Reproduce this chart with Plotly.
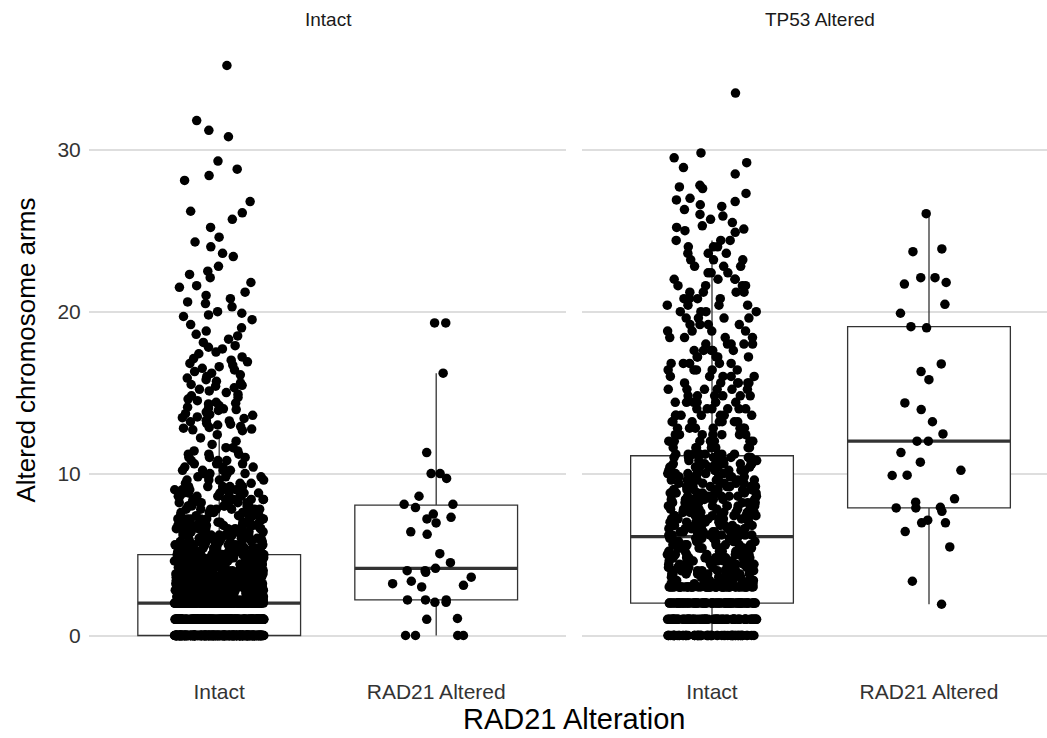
import numpy as np
import plotly.graph_objects as go

# ---------------- data ----------------
panels = ["Intact", "TP53 Altered"]
groups = ["Intact", "RAD21 Altered"]

# Panel "Intact", group "Intact": frequency table of the dense part ...
p1_intact_vals = [0, 1, 2,
                  2.2, 2.4, 2.6, 2.8, 3.0, 3.2, 3.4, 3.6, 3.8, 4.0, 4.2, 4.4, 4.6, 4.8, 5.0,
                  5.2, 5.4, 5.6, 5.8, 6.0, 6.2, 6.4, 6.6, 6.8, 7.0, 7.2, 7.4, 7.6, 7.8, 8.0,
                  8.2, 8.4, 8.6, 8.8, 9.0, 9.2, 9.4, 9.6, 9.8, 10.0, 10.2, 10.4, 10.6, 10.8,
                  11.0, 11.2, 11.4, 11.6, 11.8, 12.0, 12.2, 12.4]
p1_intact_counts = [400, 190, 170,
                    24, 24, 23, 23, 22, 22, 22, 21, 21, 21, 20, 20, 19, 18, 25,
                    13, 13, 12, 12, 11, 10, 10, 10, 10, 9, 9, 8, 8, 7, 7,
                    7, 7, 6, 6, 5, 5, 4, 4, 4, 4, 4, 3, 3, 3,
                    3, 3, 2, 2, 1, 1, 1, 1]
# ... and the individual upper values
p1_intact_high = [35.2, 31.8, 31.2, 30.8, 29.3, 28.8, 28.4, 28.1, 26.8, 26.2, 26.1, 25.7,
                  25.2, 24.6, 24.3, 24.0, 23.6, 23.4, 22.8, 22.5, 22.3, 22.1, 21.8, 21.6,
                  21.5, 21.2, 21.0, 20.8, 20.5, 20.3, 20.0, 19.9, 19.8, 19.5, 19.2, 19.0,
                  18.8, 18.5, 18.3, 18.1, 17.9, 17.7, 17.5, 17.4, 17.2, 17.0, 16.8, 16.7,
                  16.5, 16.3, 16.2, 16.0, 15.9, 15.7, 15.6, 15.4, 15.3, 15.1, 15.0, 14.9,
                  14.8, 14.6, 14.5, 14.4, 14.3, 14.1, 14.0, 13.9, 13.8, 13.7, 13.6, 13.5,
                  13.4, 13.3, 13.2, 13.1, 13.0, 12.9, 12.8, 12.7,
                  17.8, 17.1, 16.6, 16.4, 16.1, 15.8, 15.5, 15.2, 14.7, 14.2, 13.95, 13.65,
                  13.45, 13.25, 13.05, 12.85, 12.75, 12.65, 14.05, 14.35, 15.45, 16.9, 18.6,
                  19.7, 20.6]

# Panel "Intact", group "RAD21 Altered"
p1_rad21 = [0, 0, 0, 0, 1.0, 1.05, 2.05, 2.05, 2.2, 2.2, 2.2, 3.0, 3.1, 3.2, 3.35, 3.6,
            3.9, 4.0, 4.0, 4.15, 4.5, 5.05, 6.25, 6.4, 6.95, 7.2, 7.3, 7.5, 7.9, 8.1, 8.1,
            8.6, 9.7, 10.0, 10.0, 11.3, 16.2, 19.3, 19.3]

# Panel "TP53 Altered", group "Intact"
p2_intact_vals = [0, 1, 2, 3,
                  3.2, 3.4, 3.6, 3.8, 4.0, 4.2, 4.4, 4.6, 4.8, 5.0, 5.2, 5.4, 5.6, 5.8, 6.0,
                  6.2, 6.4, 6.6, 6.8, 7.0, 7.2, 7.4, 7.6, 7.8, 8.0, 8.2, 8.4, 8.6, 8.8, 9.0,
                  9.2, 9.4, 9.6, 9.8, 10.0, 10.2, 10.4, 10.6, 10.8, 11.0,
                  11.2, 11.6, 12.0, 12.4, 12.8, 13.2, 13.6, 14.0, 14.4, 14.8, 15.2, 15.6,
                  16.0, 16.4, 16.8, 17.2, 17.6, 18.0, 18.4, 18.8, 19.2, 19.6, 20.0, 20.4,
                  20.8, 21.2, 21.6, 22.0, 22.4, 22.8, 23.2, 23.6, 24.0, 24.4]
p2_intact_counts = [65, 65, 72, 52,
                    10, 10, 10, 10, 9, 9, 9, 9, 9, 9, 9, 9, 8, 8, 8,
                    9, 9, 9, 9, 9, 9, 9, 8, 8, 8, 8, 8, 8, 8, 8,
                    7, 7, 7, 7, 7, 7, 7, 7, 6, 6,
                    8, 8, 8, 7, 7, 7, 7, 6, 6, 6, 6, 6,
                    5, 5, 5, 5, 5, 5, 4, 4, 4, 4, 4, 4,
                    4, 4, 4, 4, 3, 3, 3, 3, 3, 3]
p2_intact_high = [33.5, 29.8, 29.5, 29.2, 28.9, 28.5, 27.8, 27.7, 27.6, 27.3, 27.0, 26.9,
                  26.8, 26.6, 26.5, 26.3, 26.0, 25.9, 25.7, 25.5, 25.3, 25.2, 25.1, 25.0,
                  24.9]

# Panel "TP53 Altered", group "RAD21 Altered"
p2_rad21 = [26.05, 23.87, 23.7, 22.1, 22.1, 21.8, 21.7, 20.45, 19.9, 19.07, 19.0, 16.77,
            16.3, 15.8, 14.36, 13.95, 13.2, 12.45, 12.0, 12.0, 11.3, 10.7, 10.2, 9.9, 9.88,
            8.44, 8.23, 7.92, 7.88, 7.88, 7.67, 7.12, 6.96, 6.96, 6.42, 5.47, 3.35, 1.93]

y_ticks = [0, 10, 20, 30]

# value bands drawn as separate point layers (so each band gets its own jitter scaling)
band_edges = [[12.6, 19, 26], [], [24.6, 28], []]

# ---------------- build ----------------
p1_intact = list(np.repeat(p1_intact_vals, p1_intact_counts)) + p1_intact_high
p2_intact = list(np.repeat(p2_intact_vals, p2_intact_counts)) + p2_intact_high
panel_data = [(p1_intact, p1_rad21), (p2_intact, p2_rad21)]

FONT = "Liberation Sans"
BOXW = 0.75
fig = go.Figure()

for k, (a, b) in enumerate(panel_data):
    xa = "x" if k == 0 else "x2"
    xs = [0] * len(a) + [1] * len(b)
    ys = list(a) + list(b)
    # box body (white fill, thin outline); whiskers to 1.5 IQR, outlier markers hidden
    fig.add_trace(go.Box(
        x=xs, y=ys, xaxis=xa, yaxis="y", width=BOXW, boxpoints="outliers",
        marker=dict(opacity=0, size=1), fillcolor="white",
        line=dict(color="#333333", width=1.3),
        whiskerwidth=0, quartilemethod="linear", showlegend=False, hoverinfo="skip"))
    # thick median line
    meds = [float(np.median(a)), float(np.median(b))]
    fig.add_trace(go.Box(
        x=[0, 1], q1=meds, median=meds, q3=meds, lowerfence=meds, upperfence=meds,
        xaxis=xa, yaxis="y", width=BOXW, fillcolor="rgba(0,0,0,0)",
        line=dict(color="#333333", width=3.2), whiskerwidth=0,
        showlegend=False, hoverinfo="skip"))
    # jittered points
    for g, vals in enumerate((a, b)):
        edges = [-np.inf] + band_edges[2 * k + g] + [np.inf]
        arr = np.asarray(vals, dtype=float)
        for lo, hi in zip(edges[:-1], edges[1:]):
            sel = arr[(arr >= lo) & (arr < hi)]
            if sel.size == 0:
                continue
            fig.add_trace(go.Box(
                x=[g] * sel.size, y=sel, xaxis=xa, yaxis="y", width=BOXW,
                boxpoints="all", jitter=0.55, pointpos=0,
                fillcolor="rgba(0,0,0,0)",
                line=dict(color="rgba(0,0,0,0)", width=0), whiskerwidth=0,
                marker=dict(color="black", size=9.5, line=dict(width=0)),
                showlegend=False, hoverinfo="y"))

L, R, T, B = 89, 0, 37, 74
W, H = 1047, 738
pw = W - L - R
x1_dom = [0, 477.4 / pw]
x2_dom = [(581.8 - L) / pw, 1]
x2_hi = -0.6 + (W - 581.8) / 217.0

axis_x = dict(tickvals=[0, 1], ticktext=groups, showgrid=False, zeroline=False,
              showline=False, ticks="outside", ticklen=9, tickcolor="rgba(0,0,0,0)",
              tickfont=dict(family=FONT, size=21, color="#333333"), anchor="y")

fig.update_layout(
    width=W, height=H,
    margin=dict(l=L, r=R, t=T, b=B),
    paper_bgcolor="white", plot_bgcolor="white",
    boxmode="overlay",
    font=dict(family=FONT),
    xaxis=dict(domain=x1_dom, range=[-0.6, 1.6], **axis_x),
    xaxis2=dict(domain=x2_dom, range=[-0.6, x2_hi], **axis_x),
    yaxis=dict(domain=[0, 1], range=[-1.76, 36.96], tickvals=y_ticks,
               showgrid=True, gridcolor="#DEDEDE", gridwidth=1.6, zeroline=False,
               showline=False, ticks="outside", ticklen=3, tickcolor="rgba(0,0,0,0)",
               tickfont=dict(family=FONT, size=21, color="#333333"), anchor="x"),
)

ph = H - T - B
annotations = [
    dict(text=panels[0], x=(328 - L) / pw, y=(H - B - 20) / ph, xref="paper", yref="paper",
         showarrow=False, font=dict(family=FONT, size=19, color="#1A1A1A"),
         xanchor="center", yanchor="middle"),
    dict(text=panels[1], x=(820 - L) / pw, y=(H - B - 20) / ph, xref="paper", yref="paper",
         showarrow=False, font=dict(family=FONT, size=19, color="#1A1A1A"),
         xanchor="center", yanchor="middle"),
    dict(text="RAD21 Alteration", x=(574 - L) / pw, y=(H - B - 719) / ph, xref="paper",
         yref="paper", showarrow=False, font=dict(family=FONT, size=29, color="black"),
         xanchor="center", yanchor="middle"),
    dict(text="Altered chromosome arms", x=(25 - L) / pw, y=0.5, xref="paper",
         yref="paper", showarrow=False, textangle=-90,
         font=dict(family=FONT, size=26, color="black"),
         xanchor="center", yanchor="middle"),
]
fig.update_layout(annotations=annotations)

fig.write_html("out.html")
